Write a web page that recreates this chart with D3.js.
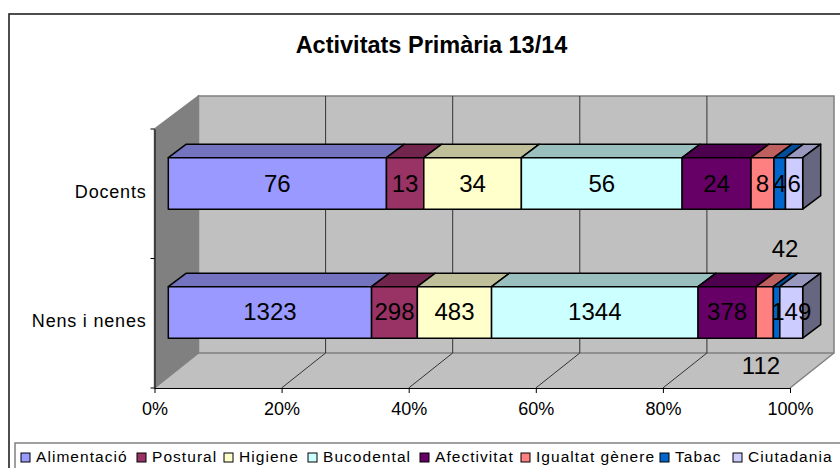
<!DOCTYPE html>
<html><head><meta charset="utf-8">
<script src="https://cdn.jsdelivr.net/npm/d3@7/dist/d3.min.js"></script>
<style>html,body{margin:0;padding:0;background:#fff}svg{display:block}text{font-family:"Liberation Sans",Arial,sans-serif;fill:#000}</style>
</head><body><svg id="c" width="840" height="468"></svg>
<script>
const chartTitle = "Activitats Primària 13/14";
const categories = ["Docents", "Nens i nenes"];
const seriesNames = ["Alimentació","Postural","Higiene","Bucodental","Afectivitat","Igualtat gènere","Tabac","Ciutadania"];
const docentsValues = [76,13,34,56,24,8,4,6];
const nensValues = [1323,298,483,1344,378,112,42,149];
const seriesColors = ["#9999FF","#993366","#FFFFCC","#CCFFFF","#660066","#FF8080","#0066CC","#CCCCFF"];
const tickValues = [0,0.2,0.4,0.6,0.8,1];

const svg = d3.select("#c");
// chart frame
svg.append("rect").attr("x",9).attr("y",14).attr("width",840).attr("height",470).attr("fill","#fff").attr("stroke","#222").attr("stroke-width",1.6);
svg.append("text").attr("x",431.5).attr("y",53).attr("text-anchor","middle").attr("font-size",23.5).attr("font-weight","bold").text(chartTitle);

const x = d3.scaleLinear().domain([0,1]).range([154.5,790]);
const depth = {dx:44,dy:-35};
const floorY = 388, wallFrontTop = 129, wallBackTop = 96;
const line = d3.line();
const pts = (g,arr)=>g.append("path").attr("d",line(arr)+"Z");

// walls
const g3 = svg.append("g");
pts(g3,[[x(0),floorY],[x(1),floorY],[x(1)+depth.dx,floorY+depth.dy],[x(0)+depth.dx,floorY+depth.dy]]).attr("fill","#C0C0C0");
pts(g3,[[x(0),wallFrontTop],[x(0)+depth.dx,wallBackTop],[x(0)+depth.dx,floorY+depth.dy],[x(0),floorY]]).attr("fill","#808080").attr("stroke","#808080").attr("stroke-width",1.5);
pts(g3,[[x(0)+depth.dx,wallBackTop],[x(1)+depth.dx,wallBackTop],[x(1)+depth.dx,floorY+depth.dy],[x(0)+depth.dx,floorY+depth.dy]]).attr("fill","#C0C0C0").attr("stroke","#808080").attr("stroke-width",1.5);
g3.append("path").attr("d",line([[x(1),floorY],[x(1)+depth.dx,floorY+depth.dy]])).attr("stroke","#808080").attr("stroke-width",1.5).attr("fill","none");

// gridlines
tickValues.slice(1,-1).forEach(t=>{
  g3.append("path").attr("fill","none").attr("stroke","#333").attr("stroke-width",1)
    .attr("d",line([[x(t),floorY],[x(t)+depth.dx,floorY+depth.dy],[x(t)+depth.dx,wallBackTop]]));
});

// axes
const xAxis = d3.axisBottom(x).tickValues(tickValues).tickFormat(d3.format(".0%")).tickSize(5).tickSizeOuter(0);
const ax = svg.append("g").attr("transform",`translate(0,${floorY})`).call(xAxis);
ax.selectAll("text").attr("font-size",18).attr("dy",0).attr("y",27).attr("font-family","Liberation Sans");
ax.select(".domain").attr("stroke","#000");
const yBand = d3.scaleBand().domain(categories).range([wallFrontTop,floorY]);
const yAxis = d3.axisLeft(yBand).tickSize(0);
const ay = svg.append("g").attr("transform",`translate(${x(0)},0)`).call(yAxis);
ay.select(".domain").attr("stroke","#000");
ay.selectAll("text").attr("font-size",18).attr("letter-spacing",0.8).attr("x",-8).attr("dy",0).attr("y",4).attr("text-anchor","end").attr("font-family","Liberation Sans");
[wallFrontTop,(wallFrontTop+floorY)/2,floorY].forEach(y=>ay.append("line").attr("x1",-4).attr("x2",0).attr("y1",y).attr("y2",y).attr("stroke","#000"));

// bars
const bx = d3.scaleLinear().domain([0,1]).range([168.3,802.7]);
const bd = {dx:18,dy:-13.5};
const barH = 51.5;
const rows = [{v:docentsValues,y0:157.7,base:192},{v:nensValues,y0:286.7,base:319.5}];
const shade=(c,k)=>{const r=d3.rgb(c);return d3.rgb(r.r*k,r.g*k,r.b*k).formatHex();};
rows.forEach(row=>{
  const total = d3.sum(row.v);
  let cum=0;
  const g=svg.append("g").attr("stroke","#000").attr("stroke-width",1.5).attr("stroke-linejoin","round");
  row.v.forEach((d,i)=>{
    const a=bx(cum/total), b=bx((cum+d)/total);
    cum+=d;
    const y=row.y0;
    pts(g,[[a,y],[a+bd.dx,y+bd.dy],[b+bd.dx,y+bd.dy],[b,y]]).attr("fill",shade(seriesColors[i],.75));
    if(i===row.v.length-1) pts(g,[[b,y],[b+bd.dx,y+bd.dy],[b+bd.dx,y+bd.dy+barH],[b,y+barH]]).attr("fill",shade(seriesColors[i],.5));
    g.append("rect").attr("x",a).attr("y",y).attr("width",b-a).attr("height",barH).attr("fill",seriesColors[i]);
  });
});
// value labels
rows.forEach(row=>{
  const total=d3.sum(row.v); let cum=0;
  row.v.forEach((d,i)=>{
    const a=bx(cum/total), b=bx((cum+d)/total); cum+=d;
    let lx=(a+b)/2, ly=row.base;
    if(row.v===nensValues&&i===5){lx=761;ly=373.5;}
    if(row.v===nensValues&&i===6){lx=785;ly=257;}
    svg.append("text").attr("x",lx).attr("y",ly).attr("text-anchor","middle").attr("font-size",24).text(d);
  });
});

// legend
svg.append("rect").attr("x",15).attr("y",443).attr("width",840).attr("height",40).attr("fill","#fff").attr("stroke","#808080").attr("stroke-width",1.5);
const legX=[21,137,224,308,420,521,660,733];
seriesNames.forEach((n,i)=>{
  svg.append("rect").attr("x",legX[i]).attr("y",453).attr("width",9).attr("height",9).attr("fill",seriesColors[i]).attr("stroke","#000");
  svg.append("text").attr("x",legX[i]+15).attr("y",462).attr("font-size",15.5).attr("letter-spacing",1.05).text(n);
});
</script></body></html>
